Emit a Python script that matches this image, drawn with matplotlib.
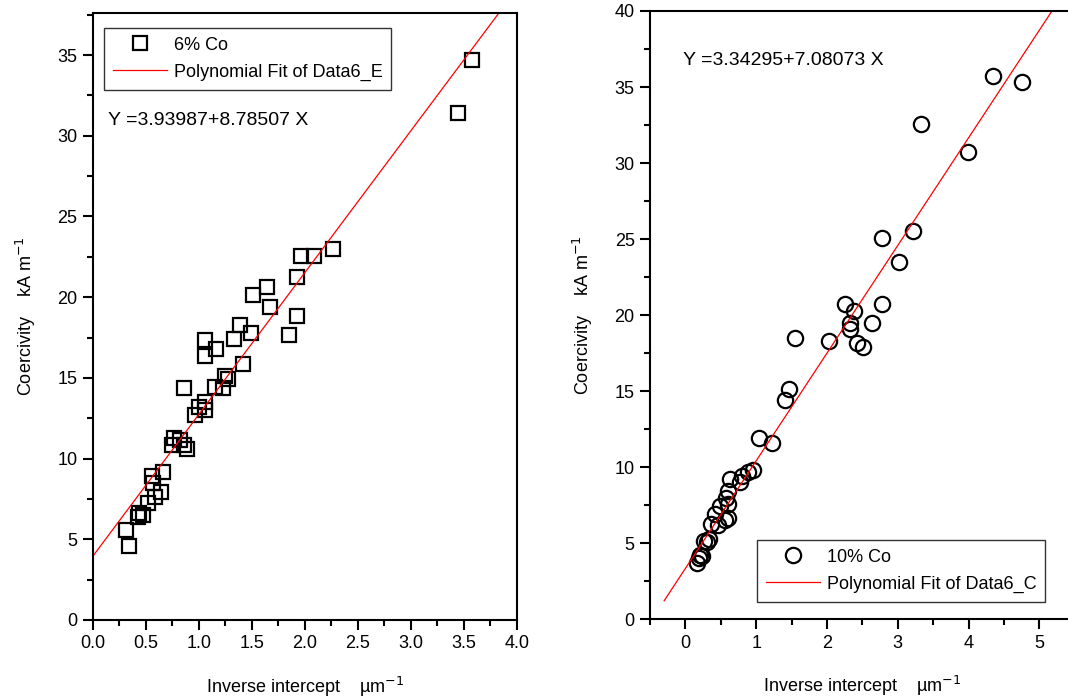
import matplotlib
matplotlib.use("Agg")
import matplotlib.pyplot as plt
import numpy as np
from matplotlib.ticker import MultipleLocator, FormatStrFormatter

plt.rcParams['font.family'] = ['Liberation Sans', 'DejaVu Sans']

# 6% Co sample: inverse intercept (1/um) vs coercivity (kA/m)
x_6co = [3.575, 3.45, 2.27, 1.965, 2.09, 1.93, 1.93, 1.85, 1.64, 1.67,
         1.51, 1.49, 1.385, 1.33, 1.42, 1.06, 1.06, 1.16, 0.865, 1.245,
         1.28, 1.225, 1.155, 1.055, 1.06, 0.965, 1.00, 0.765, 0.82, 0.75,
         0.865, 0.89, 0.665, 0.555, 0.57, 0.64, 0.59, 0.52, 0.44, 0.43,
         0.31, 0.34, 0.47]
y_6co = [34.7, 31.4, 23.0, 22.55, 22.55, 21.25, 18.85, 17.65, 20.6, 19.4,
         20.15, 17.75, 18.25, 17.4, 15.85, 17.35, 16.35, 16.8, 14.35, 15.1,
         14.9, 14.35, 14.45, 13.5, 13.0, 12.7, 13.2, 11.25, 11.15, 10.85,
         10.85, 10.6, 9.15, 8.9, 8.5, 7.9, 7.65, 7.25, 6.6, 6.4,
         5.6, 4.6, 6.5]

# 10% Co sample
x_10co = [4.34, 4.755, 3.33, 3.99, 3.22, 3.02, 2.77, 2.77, 2.63, 2.26,
          2.38, 2.32, 2.32, 2.43, 2.51, 2.03, 1.554, 1.47, 1.40, 1.035,
          1.22, 0.956, 0.88, 0.805, 0.77, 0.636, 0.60, 0.57, 0.60, 0.49,
          0.42, 0.60, 0.565, 0.456, 0.36, 0.33, 0.26, 0.31, 0.21, 0.165,
          0.19, 0.235]
y_10co = [35.75, 35.35, 32.6, 30.7, 25.5, 23.5, 25.1, 20.7, 19.5, 20.75,
          20.3, 19.5, 19.1, 18.2, 17.9, 18.3, 18.5, 15.15, 14.4, 11.9,
          11.6, 9.8, 9.7, 9.4, 9.0, 9.2, 8.45, 8.0, 7.6, 7.45,
          6.95, 6.65, 6.5, 6.2, 6.25, 5.25, 5.15, 5.05, 4.25, 3.7,
          4.0, 4.15]

# linear fit coefficients (intercept, slope)
fit_6co = (3.93987, 8.78507)
fit_10co = (3.34295, 7.08073)

fig = plt.figure(figsize=(10.68, 7.0), dpi=100)
ax1 = fig.add_axes([0.0868, 0.1143, 0.397, 0.867])
ax2 = fig.add_axes([0.6086, 0.1153, 0.3978, 0.869])

FS = 13


def style_axes(ax):
    for s in ax.spines.values():
        s.set_linewidth(1.5)
    ax.tick_params(which='major', direction='out', length=7, width=1.5,
                   labelsize=FS, pad=4)
    ax.tick_params(which='minor', direction='out', length=4, width=1.5)
    ax.set_ylabel('Coercivity    kA m$^{-1}$', fontsize=FS, labelpad=14)
    ax.set_xlabel('Inverse intercept    \u00b5m$^{-1}$', fontsize=FS,
                  labelpad=16)


def make_legend(ax, loc, anchor):
    leg = ax.legend(loc=loc, bbox_to_anchor=anchor, borderaxespad=0,
                    fontsize=FS, frameon=True, fancybox=False,
                    edgecolor='black', handlelength=3.0, handletextpad=0.35,
                    borderpad=0.5, labelspacing=0.55)
    leg.get_frame().set_linewidth(1.0)
    return leg


# left panel
ax1.plot(x_6co, y_6co, ls='none', marker='s', ms=10, mfc='none', mec='black',
         mew=1.6, label='6% Co')
xf = np.array([0.0, 4.0])
ax1.plot(xf, fit_6co[0] + fit_6co[1] * xf, color='red', lw=0.9,
         label='Polynomial Fit of Data6_E')
ax1.set_xlim(0, 4.0)
ax1.set_ylim(0, 37.6)
ax1.xaxis.set_major_locator(MultipleLocator(0.5))
ax1.xaxis.set_minor_locator(MultipleLocator(0.25))
ax1.yaxis.set_major_locator(MultipleLocator(5))
ax1.yaxis.set_minor_locator(MultipleLocator(2.5))
ax1.xaxis.set_major_formatter(FormatStrFormatter('%.1f'))
style_axes(ax1)
make_legend(ax1, 'upper left', (0.027, 0.976))
ax1.text(0.036, 0.8225, 'Y =%.5f+%.5f X' % fit_6co, transform=ax1.transAxes,
         fontsize=FS + 1, va='center')

# right panel
ax2.plot(x_10co, y_10co, ls='none', marker='o', ms=11, mfc='none', mec='black',
         mew=1.6, label='10% Co')
xf2 = np.array([-0.3, 6.0])
ax2.plot(xf2, fit_10co[0] + fit_10co[1] * xf2, color='red', lw=0.9,
         label='Polynomial Fit of Data6_C')
ax2.set_xlim(-0.5, 5.5)
ax2.set_ylim(0, 40)
ax2.xaxis.set_major_locator(MultipleLocator(1))
ax2.xaxis.set_minor_locator(MultipleLocator(0.5))
ax2.yaxis.set_major_locator(MultipleLocator(5))
ax2.yaxis.set_minor_locator(MultipleLocator(2.5))
style_axes(ax2)
make_legend(ax2, 'lower left', (0.252, 0.0285))
ax2.text(0.078, 0.918, 'Y =%.5f+%.5f X' % fit_10co, transform=ax2.transAxes,
         fontsize=FS + 1, va='center')

fig.savefig('out.png', dpi=100)
